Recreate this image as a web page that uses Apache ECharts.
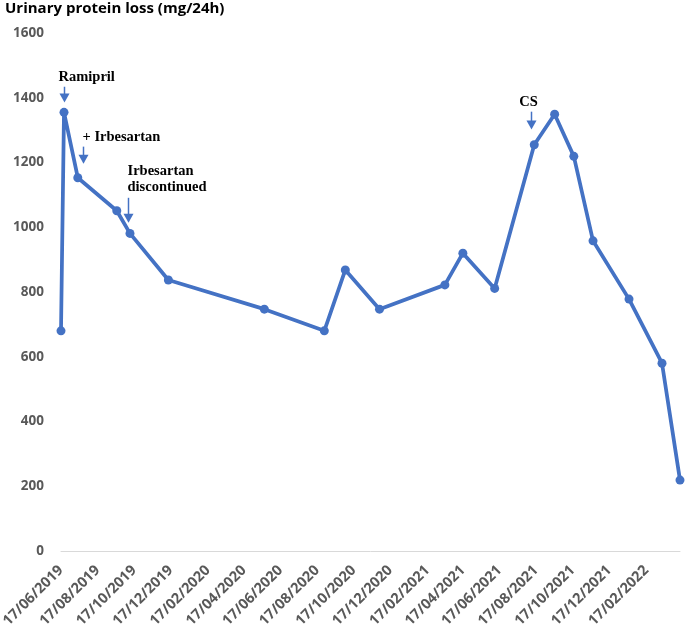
<!DOCTYPE html>
<html><head><meta charset="utf-8">
<script src="https://cdn.jsdelivr.net/npm/echarts@6/dist/echarts.min.js"></script>
<style>html,body{margin:0;padding:0;background:#fff}#c{width:685px;height:632px}</style>
</head><body><div id="c"></div>
<script>
// ---- data ----
const dates = ['17/06/2019','22/06/2019','15/07/2019','18/09/2019','10/10/2019','13/12/2019',
  '21/05/2020','29/08/2020','03/10/2020','29/11/2020','18/03/2021','17/04/2021','09/06/2021',
  '14/08/2021','17/09/2021','19/10/2021','20/11/2021','19/01/2022','15/03/2022','14/04/2022'];
const proteinLoss = [680,1355,1153,1051,981,837,747,680,868,747,822,920,811,1255,1349,1219,958,778,580,219];
const tickLabels = ['17/06/2019','17/08/2019','17/10/2019','17/12/2019','17/02/2020','17/04/2020',
  '17/06/2020','17/08/2020','17/10/2020','17/12/2020','17/02/2021','17/04/2021','17/06/2021',
  '17/08/2021','17/10/2021','17/12/2021','17/02/2022'];
const yTicks = [0,200,400,600,800,1000,1200,1400,1600];
const annoDates = ['22/06/2019','23/07/2019','07/10/2019','09/08/2021'];
const annoTexts = ['Ramipril','+ Irbesartan','Irbesartan\ndiscontinued','CS'];
const annoFrom = [1434,1249,1091,1357];
const annoTo = [1385,1196,1014,1302];

// ---- helpers ----
const DAY=86400000;
function parseD(s){const p=s.split('/');return Date.UTC(+p[2],+p[1]-1,+p[0])/DAY;}
function fmtD(v){const d=new Date(Math.round(v)*DAY);const z=n=>(n<10?'0':'')+n;return z(d.getUTCDate())+'/'+z(d.getUTCMonth()+1)+'/'+d.getUTCFullYear();}

const blue='#4472C4';
const chart=echarts.init(document.getElementById('c'),null,{renderer:'canvas'});
const seriesData=dates.map((d,i)=>[parseD(d),proteinLoss[i]]);
const x0=parseD(dates[0]);
chart.setOption({
  animation:false,
  grid:{left:61,right:5,top:33,bottom:81,containLabel:false,outerBoundsMode:'none'},
  xAxis:{type:'value',min:x0,max:parseD(dates[dates.length-1]),
    axisLine:{show:true,lineStyle:{color:'#d9d9d9',width:1}},
    axisTick:{show:false},
    splitLine:{show:false},
    axisLabel:{customValues:tickLabels.map(parseD),rotate:45,margin:17,
      formatter:v=>fmtD(v),color:'#595959',fontWeight:'bold',fontSize:14.5,fontFamily:'Open Sans',
      hideOverlap:false}
  },
  yAxis:{type:'value',min:0,max:1600,interval:200,
    axisLine:{show:false},axisTick:{show:false},splitLine:{show:false},
    axisLabel:{customValues:yTicks,formatter:v=>String(v),color:'#595959',fontWeight:'bold',fontSize:13.5,fontFamily:'Open Sans',margin:17}
  },
  series:[{type:'line',data:seriesData,symbol:'circle',symbolSize:9,
    lineStyle:{color:blue,width:3.75},itemStyle:{color:blue},z:3}]
});

const g=[{type:'text',left:5,top:1,style:{text:'Urinary protein loss (mg/24h)',fill:'#000',
  font:'bold 15px "Open Sans"'}}];
const textOff=[[-6,-1,'left'],[-1,-1,'left'],[-1,-3,'left'],[-3,-1,'center']];
annoDates.forEach((d,i)=>{
  const t=parseD(d);
  const p1=chart.convertToPixel({gridIndex:0},[t,annoFrom[i]]);
  const p2=chart.convertToPixel({gridIndex:0},[t,annoTo[i]]);
  const x=Math.round(p1[0])+0.5, headH=9, headW=5;
  g.push({type:'line',shape:{x1:x,y1:p1[1],x2:x,y2:p2[1]-headH+1},style:{stroke:blue,lineWidth:1.5},silent:true});
  g.push({type:'polygon',shape:{points:[[x-headW,p2[1]-headH],[x+headW,p2[1]-headH],[x,p2[1]]]},style:{fill:blue},silent:true});
  g.push({type:'text',x:x+textOff[i][0],y:p1[1]+textOff[i][1],style:{text:annoTexts[i],
    font:'bold 14.5px "Liberation Serif"',fill:'#000',align:textOff[i][2],verticalAlign:'bottom',lineHeight:16},silent:true});
});
chart.setOption({graphic:g});
</script></body></html>
